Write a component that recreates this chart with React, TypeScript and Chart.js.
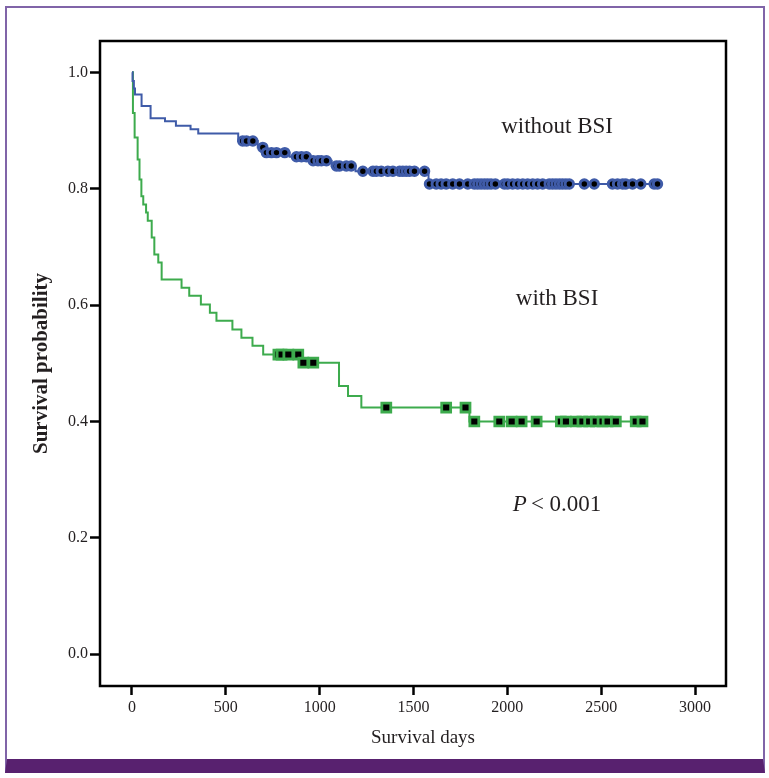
import React, { useEffect, useRef } from 'react';
import { Chart, registerables } from 'chart.js';

Chart.register(...registerables);

// ---------- data ----------
const xTickValues = [0, 500, 1000, 1500, 2000, 2500, 3000];
const yTickValues = [0, 0.2, 0.4, 0.6, 0.8, 1.0];

// without BSI (blue) Kaplan-Meier steps: day of drop, survival after drop
const noBsiDays = [0, 3, 10, 16, 51, 99, 176, 234, 312, 353, 566, 670, 707, 840, 947, 1064, 1191, 1580, 2800];
const noBsiSurv = [1.0, 0.985, 0.972, 0.962, 0.942, 0.921, 0.916, 0.908, 0.902, 0.895, 0.882, 0.871, 0.862, 0.855, 0.848, 0.839, 0.83, 0.808, 0.808];
const noBsiCensored = [
  590, 610, 644, 697, 716, 743, 770, 814, 876, 903, 929, 965, 991, 1009, 1036,
  1089, 1106, 1142, 1168, 1230, 1284, 1302, 1328, 1363, 1390, 1426, 1443, 1461, 1479, 1505, 1559,
  1585, 1621, 1647, 1674, 1709, 1745, 1789, 1824, 1842, 1860, 1878, 1895, 1913, 1936, 1984, 2002,
  2028, 2055, 2082, 2108, 2135, 2161, 2188, 2223, 2241, 2259, 2277, 2294, 2312, 2330, 2410, 2463,
  2560, 2587, 2614, 2631, 2667, 2711, 2782, 2800,
];

// with BSI (green)
const bsiDays = [0, 5, 14, 30, 40, 50, 60, 75, 84, 105, 119, 140, 158, 264, 305, 367, 415, 450, 535, 583, 642, 699, 894, 1103, 1151, 1222, 1798, 2729];
const bsiSurv = [1.0, 0.93, 0.888, 0.85, 0.816, 0.787, 0.773, 0.759, 0.745, 0.716, 0.687, 0.673, 0.644, 0.63, 0.616, 0.601, 0.587, 0.573, 0.558, 0.544, 0.53, 0.515, 0.501, 0.461, 0.444, 0.424, 0.4, 0.4];
const bsiCensored = [
  780, 797, 833, 886, 913, 966, 1355, 1674, 1777, 1824, 1957, 2023, 2076, 2156,
  2285, 2312, 2365, 2400, 2436, 2471, 2507, 2534, 2578, 2684, 2720,
];

const labelWithout = 'without BSI';
const labelWith = 'with BSI';
const pText = '< 0.001';
const xTitle = 'Survival days';
const yTitle = 'Survival probability';

// ---------- helpers ----------
function survAt(days: number[], surv: number[], t: number) {
  let s = surv[0];
  for (let i = 0; i < days.length; i++) {
    if (days[i] <= t) s = surv[i];
  }
  return s;
}

const SERIF = "'Liberation Serif', 'Times New Roman', serif";
const BLUE = '#3f5ba8';
const GREEN = '#3dab4d';
const TEXT = '#231f20';

export default function App() {
  const ref = useRef<HTMLCanvasElement | null>(null);

  useEffect(() => {
    const canvas = ref.current;
    if (!canvas) return;

    const framePlugin = {
      id: 'frameAndText',
      afterDatasetsDraw(chart: any) {
        const { ctx, chartArea: a, scales } = chart;
        const xs = scales.x;
        const ys = scales.y;
        ctx.save();
        ctx.strokeStyle = '#000';
        ctx.lineWidth = 2.5;
        ctx.strokeRect(a.left, a.top, a.right - a.left, a.bottom - a.top);

        ctx.fillStyle = TEXT;
        ctx.textAlign = 'center';
        ctx.textBaseline = 'alphabetic';
        ctx.font = `23px ${SERIF}`;
        ctx.fillText(labelWithout, xs.getPixelForValue(2265), ys.getPixelForValue(0.896));
        ctx.fillText(labelWith, xs.getPixelForValue(2265), ys.getPixelForValue(0.6));

        // P < 0.001
        const cx = xs.getPixelForValue(2265);
        const by = ys.getPixelForValue(0.247);
        ctx.font = `italic 23px ${SERIF}`;
        const wP = ctx.measureText('P').width;
        ctx.font = `23px ${SERIF}`;
        const wRest = ctx.measureText(pText).width;
        const gap = 4;
        const start = cx - (wP + gap + wRest) / 2;
        ctx.textAlign = 'left';
        ctx.font = `italic 23px ${SERIF}`;
        ctx.fillText('P', start, by);
        ctx.font = `23px ${SERIF}`;
        ctx.fillText(pText, start + wP + gap, by);

        // x title
        ctx.textAlign = 'center';
        ctx.font = `19px ${SERIF}`;
        ctx.fillText(xTitle, 423, 743);

        // y title
        ctx.translate(41.5, (a.top + a.bottom) / 2);
        ctx.rotate(-Math.PI / 2);
        ctx.textBaseline = 'middle';
        ctx.font = `bold 21px ${SERIF}`;
        ctx.fillText(yTitle, 0, 0);
        ctx.restore();
      },
    };

    const chart = new Chart(canvas, {
      type: 'line',
      data: {
        datasets: [
          {
            label: 'without BSI',
            data: noBsiDays.map((d, i) => ({ x: d, y: noBsiSurv[i] })),
            borderColor: BLUE,
            borderWidth: 2,
            stepped: 'before',
            pointRadius: 0,
            fill: false,
            order: 2,
          },
          {
            label: 'with BSI',
            data: bsiDays.map((d, i) => ({ x: d, y: bsiSurv[i] })),
            borderColor: GREEN,
            borderWidth: 2,
            stepped: 'before',
            pointRadius: 0,
            fill: false,
            order: 2,
          },
          {
            label: 'without BSI censored',
            data: noBsiCensored.map((d) => ({ x: d, y: survAt(noBsiDays, noBsiSurv, d) })),
            showLine: false,
            pointStyle: 'circle',
            pointRadius: 4.2,
            pointBorderWidth: 3,
            pointBorderColor: BLUE,
            pointBackgroundColor: '#000',
            order: 1,
          },
          {
            label: 'with BSI censored',
            data: bsiCensored.map((d) => ({ x: d, y: survAt(bsiDays, bsiSurv, d) })),
            showLine: false,
            pointStyle: 'rect',
            pointRadius: 6.3,
            pointBorderWidth: 2.8,
            pointBorderColor: GREEN,
            pointBackgroundColor: '#000',
            order: 1,
          },
        ],
      },
      options: {
        animation: false,
        responsive: false,
        maintainAspectRatio: false,
        layout: { padding: { top: 41, right: 43, left: 0, bottom: 0 } },
        plugins: { legend: { display: false }, tooltip: { enabled: false } },
        scales: {
          x: {
            type: 'linear',
            min: -170.5,
            max: 3165,
            afterFit: (s: any) => { s.height = 92; },
            afterBuildTicks: (s: any) => { s.ticks = xTickValues.map((v) => ({ value: v })); },
            border: { display: false },
            grid: { display: true, drawOnChartArea: false, drawTicks: true, tickLength: 9, tickWidth: 2.5, tickColor: '#000', color: '#000' },
            ticks: { color: TEXT, font: { family: SERIF, size: 16 }, padding: 3, maxRotation: 0, callback: (v: any) => String(v) },
          },
          y: {
            type: 'linear',
            min: -0.0545,
            max: 1.0538,
            afterFit: (s: any) => { s.width = 100; },
            afterBuildTicks: (s: any) => { s.ticks = yTickValues.map((v) => ({ value: v })); },
            border: { display: false },
            grid: { display: true, drawOnChartArea: false, drawTicks: true, tickLength: 10, tickWidth: 2.5, tickColor: '#000', color: '#000' },
            ticks: { color: TEXT, font: { family: SERIF, size: 16 }, padding: 2, callback: (v: any) => Number(v).toFixed(1) },
          },
        },
      },
      plugins: [framePlugin],
    } as any);

    return () => chart.destroy();
  }, []);

  return (
    <div style={{ position: 'absolute', left: 0, top: 0, width: 769, height: 778, background: '#fff' }}>
      <div
        style={{
          position: 'absolute',
          left: 5,
          top: 6,
          width: 760,
          height: 767,
          boxSizing: 'border-box',
          borderTop: '2.5px solid #8064a8',
          borderLeft: '2.5px solid #8064a8',
          borderRight: '2.5px solid #8064a8',
          borderBottom: '14px solid #58216f',
        }}
      />
      <canvas ref={ref} width={769} height={778} style={{ position: 'absolute', left: 0, top: 0, display: 'block' }} />
    </div>
  );
}
